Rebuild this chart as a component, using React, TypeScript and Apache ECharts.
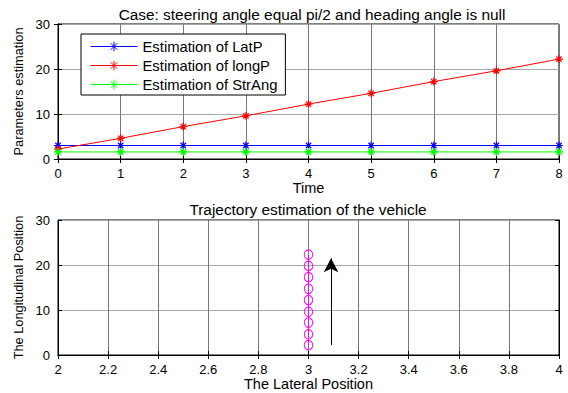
import React, { useEffect, useRef } from "react";
import * as echarts from "echarts";

const timeValues = [0, 1, 2, 3, 4, 5, 6, 7, 8];
const latP = [3, 3, 3, 3, 3, 3, 3, 3, 3];
const longP = [2.2, 4.6, 7.2, 9.6, 12.2, 14.6, 17.2, 19.6, 22.2];
const strAng = [1.57, 1.57, 1.57, 1.57, 1.57, 1.57, 1.57, 1.57, 1.57];
const trajLat = [3, 3, 3, 3, 3, 3, 3, 3, 3];
const trajLong = [2.2, 4.6, 7.2, 9.6, 12.2, 14.7, 17.3, 19.8, 22.3];
const arrowX = 3.09;
const arrowFrom = 2.2;
const arrowTo = 21.5;

const FONT = "Liberation Sans, Arial, sans-serif";
const STAR = "path://M5 0L5 10M0 5L10 5M1.6 1.6L8.4 8.4M1.6 8.4L8.4 1.6";

function starSeries(name: string, color: string, ys: number[]) {
  return {
    name,
    type: "line",
    xAxisIndex: 0,
    yAxisIndex: 0,
    data: timeValues.map((t, i) => [t, ys[i]]),
    symbol: STAR,
    symbolSize: 8,
    showSymbol: true,
    lineStyle: { color, width: 1 },
    itemStyle: { color, borderColor: color, borderWidth: 1.2 },
    emphasis: { disabled: true },
  };
}

export default function App() {
  const ref = useRef<HTMLDivElement>(null);
  useEffect(() => {
    if (!ref.current) return;
    const chart = echarts.init(ref.current, undefined, { renderer: "svg" });
    const axisCommon = {
      axisLine: { show: true, lineStyle: { color: "#000", width: 1 } },
      axisTick: { show: true, inside: true, length: 4, lineStyle: { color: "#000" } },
      axisLabel: { color: "#000", fontSize: 13, fontFamily: FONT },
      nameTextStyle: { color: "#000", fontSize: 14.5, fontFamily: FONT },
    };
    const yName = { color: "#000", fontSize: 12.8, fontFamily: FONT };
    const xSplit = { show: true, lineStyle: { color: "#777", width: 1 } };
    const ySplit = { show: true, lineStyle: { color: "#a8a8a8", width: 1 } };
    const mirror = {
      axisLine: { show: true, lineStyle: { color: "#000", width: 1 } },
      axisTick: { show: true, inside: true, length: 4, lineStyle: { color: "#000" } },
      axisLabel: { show: false },
      splitLine: { show: false },
    };
    chart.setOption({
      animation: false,
      backgroundColor: "#fff",
      textStyle: { fontFamily: FONT },
      title: [
        {
          text: "Case: steering angle equal pi/2 and heading angle is null",
          left: 307,
          top: 2,
          textAlign: "center",
          textStyle: { fontSize: 15.4, fontWeight: "normal", color: "#000", fontFamily: FONT },
        },
        {
          text: "Trajectory estimation of the vehicle",
          left: 303,
          top: 197,
          textAlign: "center",
          textStyle: { fontSize: 15.4, fontWeight: "normal", color: "#000", fontFamily: FONT },
        },
      ],
      legend: {
        left: 81,
        top: 34,
        orient: "vertical",
        data: ["Estimation of LatP", "Estimation of longP", "Estimation of StrAng"],
        backgroundColor: "#fff",
        borderColor: "#000",
        borderWidth: 1,
        padding: [5, 8, 3, 9],
        itemWidth: 47,
        itemHeight: 12,
        itemGap: 4,
        lineStyle: { width: 1 },
        itemStyle: { borderWidth: 1 },
        textStyle: { fontSize: 14.8, color: "#000", fontFamily: FONT },
        selectedMode: false,
      },
      grid: [
        { left: 58, right: 9, top: 24, height: 135, show: true, borderColor: "#000", borderWidth: 1 },
        { left: 58, right: 9, top: 220, height: 135, show: true, borderColor: "#000", borderWidth: 1 },
      ],
      xAxis: [
        {
          ...axisCommon,
          splitLine: xSplit,
          type: "value",
          gridIndex: 0,
          min: 0,
          max: 8,
          interval: 1,
          name: "Time",
          nameLocation: "middle",
          nameGap: 21,
        },
        {
          ...axisCommon,
          splitLine: xSplit,
          type: "value",
          gridIndex: 1,
          min: 2,
          max: 4,
          interval: 0.2,
          name: "The Lateral Position",
          nameLocation: "middle",
          nameGap: 21,
          axisLabel: {
            ...axisCommon.axisLabel,
            formatter: (v: number) => String(Math.round(v * 10) / 10),
          },
        },
        { ...mirror, type: "value", gridIndex: 0, position: "top", min: 0, max: 8, interval: 1 },
        { ...mirror, type: "value", gridIndex: 1, position: "top", min: 2, max: 4, interval: 0.2 },
      ],
      yAxis: [
        {
          ...axisCommon,
          splitLine: ySplit,
          type: "value",
          gridIndex: 0,
          min: 0,
          max: 30,
          interval: 10,
          name: "Parameters estimation",
          nameLocation: "middle",
          nameGap: 30,
          nameTextStyle: yName,
        },
        {
          ...axisCommon,
          splitLine: ySplit,
          type: "value",
          gridIndex: 1,
          min: 0,
          max: 30,
          interval: 10,
          name: "The Longitudinal Position",
          nameLocation: "middle",
          nameGap: 30,
          nameTextStyle: yName,
        },
        { ...mirror, type: "value", gridIndex: 0, position: "right", min: 0, max: 30, interval: 10 },
        { ...mirror, type: "value", gridIndex: 1, position: "right", min: 0, max: 30, interval: 10 },
      ],
      series: [
        starSeries("Estimation of LatP", "#0000ff", latP),
        starSeries("Estimation of longP", "#ff0000", longP),
        starSeries("Estimation of StrAng", "#00ff00", strAng),
        {
          name: "trajectory",
          type: "line",
          xAxisIndex: 1,
          yAxisIndex: 1,
          data: trajLat.map((x, i) => [x, trajLong[i]]),
          symbol: "circle",
          symbolSize: [8.5, 9.5],
          lineStyle: { color: "#ff00ff", width: 1 },
          itemStyle: { color: "rgba(0,0,0,0)", borderColor: "#ff00ff", borderWidth: 1 },
          emphasis: { disabled: true },
          markLine: {
            silent: true,
            symbol: ["none", "arrow"],
            symbolSize: [11, 14],
            label: { show: false },
            lineStyle: { color: "#000", width: 1, type: "solid" },
            data: [[{ coord: [arrowX, arrowFrom] }, { coord: [arrowX, arrowTo] }]],
          },
        },
      ],
    });
    return () => chart.dispose();
  }, []);
  return (
    <div
      ref={ref}
      style={{ position: "absolute", left: 0, top: 0, width: 568, height: 393 }}
    />
  );
}
